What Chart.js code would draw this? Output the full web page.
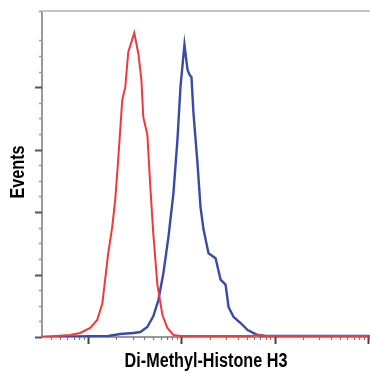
<!DOCTYPE html>
<html>
<head>
<meta charset="utf-8">
<script src="https://cdn.jsdelivr.net/npm/chart.js@4.4.1/dist/chart.umd.min.js"></script>
<style>
  html, body { margin: 0; padding: 0; background: #fff; }
  #wrap { width: 370px; height: 374px; }
</style>
</head>
<body>
<div id="wrap"><canvas id="histChart"></canvas></div>
<script>
  // fluorescence intensity (log axis) and event counts
  const controlX = [32, 64, 82, 105, 125, 142, 152, 164, 181, 195, 210, 232, 250, 269, 312, 345, 372, 390, 431, 464, 500, 552, 625, 707, 820, 976, 2500, 5520, 6500, 8000, 105000];
  const controlY = [0, 1.6, 3.2, 7.2, 13.6, 27, 46, 67, 88, 110, 142, 190, 200, 228, 243.5, 227, 206, 176, 162, 120, 82, 42, 17.6, 7.2, 1.6, 0.8, 0.8, 0.8, 1.6, 0.8, 0.8];

  const stainedX = [32, 164, 221, 305, 362, 431, 500, 566, 640, 725, 820, 906, 976, 1077, 1161, 1219, 1281, 1346, 1486, 1601, 1725, 1951, 2322, 2626, 2970, 3201, 3623, 4306, 5124, 6564, 7996, 105000];
  const stainedY = [0, 0.8, 2.4, 3.2, 4.0, 8.0, 16.8, 29.6, 51, 80, 115, 158, 200, 234, 214, 210, 208, 179, 139, 104, 86, 67, 63, 46, 42, 24, 16, 11.2, 5.6, 1.6, 0.8, 0.8];

  const xTitle = 'Di-Methyl-Histone H3';
  const yTitle = 'Events';

  const toPoints = (xs, ys) => xs.map((x, i) => ({ x: x, y: ys[i] }));

  // condensed bold axis titles, short tick marks and the top frame line
  const frameDecor = {
    id: 'frameDecor',
    afterDraw(chart) {
      const ctx = chart.ctx;
      const area = chart.chartArea;
      const xs = chart.scales.x;
      const ys = chart.scales.y;
      ctx.save();

      ctx.strokeStyle = '#c4c4c4';
      ctx.lineWidth = 2;
      ctx.beginPath();
      ctx.moveTo(area.left - 1, area.top);
      ctx.lineTo(area.right, area.top);
      ctx.stroke();

      ys.ticks.forEach(t => {
        const py = Math.round(ys.getPixelForValue(t.value)) + 0.5;
        const major = t.value % 50 === 0;
        ctx.strokeStyle = major ? '#555' : '#999';
        ctx.lineWidth = major ? 2 : 1.5;
        ctx.beginPath();
        ctx.moveTo(area.left - (major ? 7 : 3), py);
        ctx.lineTo(area.left, py);
        ctx.stroke();
      });

      for (let e = 1; e <= 5; e++) {
        for (let m = 1; m <= 9; m++) {
          const v = m * Math.pow(10, e);
          if (v < xs.min || v > xs.max) continue;
          const px = Math.round(xs.getPixelForValue(v)) + 0.5;
          const major = m === 1;
          ctx.strokeStyle = major ? '#444' : '#777';
          ctx.lineWidth = major ? 2 : 1.2;
          ctx.beginPath();
          ctx.moveTo(px, area.bottom);
          ctx.lineTo(px, area.bottom + (major ? 7 : 3));
          ctx.stroke();
        }
      }

      ctx.fillStyle = '#000';
      ctx.font = 'bold 19.5px "Liberation Sans", Arial, sans-serif';
      ctx.textAlign = 'center';
      ctx.textBaseline = 'alphabetic';

      ctx.save();
      ctx.translate((area.left + area.right) / 2, 366.5);
      ctx.scale(0.83, 1);
      ctx.fillText(xTitle, 0, 0);
      ctx.restore();

      ctx.save();
      ctx.translate(24, (area.top + area.bottom) / 2 - 2);
      ctx.rotate(-Math.PI / 2);
      ctx.scale(0.83, 1);
      ctx.fillText(yTitle, 0, 0);
      ctx.restore();

      ctx.restore();
    }
  };

  const ctx = document.getElementById('histChart').getContext('2d');

  const histChart = new Chart(ctx, {
    type: 'line',
    data: {
      datasets: [{
        label: 'Control',
        data: toPoints(controlX, controlY),
        borderColor: '#f03a3a',
        borderWidth: 2,
        pointRadius: 0,
        tension: 0,
        fill: false
      }, {
        label: 'Di-Methyl-Histone H3',
        data: toPoints(stainedX, stainedY),
        borderColor: '#3a4ba6',
        borderWidth: 2.4,
        pointRadius: 0,
        tension: 0,
        fill: false
      }]
    },
    options: {
      responsive: true,
      maintainAspectRatio: false,
      animation: false,
      layout: { padding: { left: 42, top: 11, right: 0, bottom: 37 } },
      plugins: {
        legend: { display: false },
        tooltip: { enabled: false }
      },
      scales: {
        x: {
          type: 'logarithmic',
          min: 32,
          max: 105000,
          grid: { display: false, drawTicks: false },
          border: { display: true, color: '#9a9a9a', width: 2 },
          ticks: { display: false }
        },
        y: {
          min: 0,
          max: 261,
          grid: { display: false, drawTicks: false },
          border: { display: true, color: '#9a9a9a', width: 2 },
          ticks: { display: false, stepSize: 12.5 }
        }
      }
    },
    plugins: [frameDecor]
  });
</script>
</body>
</html>
